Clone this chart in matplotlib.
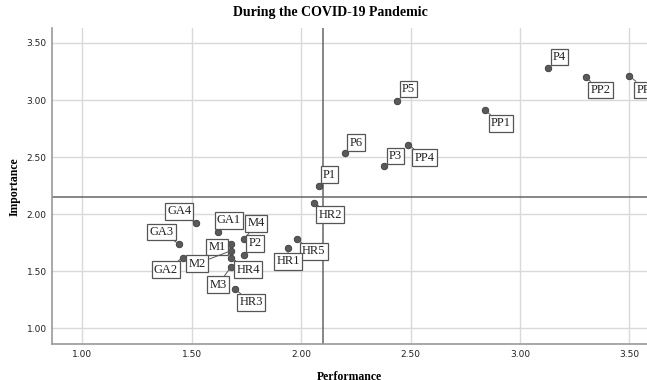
import matplotlib.pyplot as plt

# attribute codes and their (performance, importance) scores
labels = ['P4', 'PP2', 'PP3', 'PP1', 'P5', 'PP4', 'P6', 'P3', 'P1', 'HR2',
          'GA4', 'GA1', 'M4', 'P2', 'M1', 'M2', 'HR4', 'M3', 'GA3', 'GA2',
          'HR3', 'HR5', 'HR1']
performance = [3.13, 3.30, 3.50, 2.84, 2.44, 2.49, 2.20, 2.38, 2.08, 2.06,
               1.52, 1.62, 1.74, 1.74, 1.68, 1.68, 1.68, 1.68, 1.44, 1.46,
               1.70, 1.98, 1.94]
importance = [3.28, 3.20, 3.21, 2.91, 2.99, 2.61, 2.54, 2.42, 2.25, 2.10,
              1.92, 1.84, 1.78, 1.64, 1.74, 1.68, 1.62, 1.54, 1.74, 1.62,
              1.34, 1.78, 1.70]
perf_mean = 2.10
imp_mean = 2.15

# label placement (pixels from the point)
offsets = {'P4': (11, 11), 'PP2': (15, -13), 'PP3': (17, -14), 'PP1': (16, -13),
           'P5': (11, 12), 'PP4': (16, -13), 'P6': (11, 10), 'P3': (11, 10),
           'P1': (11, 11), 'HR2': (16, -12), 'GA4': (-17, 12), 'GA1': (11, 12),
           'M4': (12, 16), 'P2': (11, 12), 'M1': (-14, -3), 'M2': (-34, -13),
           'HR4': (17, -12), 'M3': (-13, -18), 'GA3': (-17, 12), 'GA2': (-17, -12),
           'HR3': (16, -13), 'HR5': (17, -12), 'HR1': (0, -13)}

serif = 'Liberation Serif'

fig = plt.figure(figsize=(6.47, 3.80), dpi=100)
ax = fig.add_axes([0.0808, 0.094, 0.9192, 0.832])

ticks = [1.0, 1.5, 2.0, 2.5, 3.0, 3.5]
ax.set_xticks(ticks)
ax.set_yticks(ticks)
ax.set_xticklabels(['%.2f' % t for t in ticks])
ax.set_yticklabels(['%.2f' % t for t in ticks])
ax.set_xlim(0.863, 3.58)
ax.set_ylim(0.86, 3.63)
ax.grid(True, color='#d9d9d9', lw=1.0)
ax.set_axisbelow(True)
ax.tick_params(length=0, pad=4, labelsize=6.5, colors='#222222')

for s in ['top', 'right']:
    ax.spines[s].set_visible(False)
for s in ['left', 'bottom']:
    ax.spines[s].set_color('#9a9a9a')
    ax.spines[s].set_linewidth(1.2)

ax.axvline(perf_mean, color='#666666', lw=1.1, zorder=1.5)
ax.axhline(imp_mean, color='#666666', lw=1.1, zorder=1.5)

ax.scatter(performance, importance, s=22, color='#5a5a5a', edgecolor='#3a3a3a',
           linewidth=0.6, zorder=3)

for name, x, y in zip(labels, performance, importance):
    dx, dy = offsets[name]
    ax.annotate(name, (x, y), xytext=(dx, dy), textcoords='offset pixels',
                ha='center', va='center', fontsize=9, family=serif, color='#222222',
                bbox=dict(boxstyle='square,pad=0.18', fc='white', ec='#555555', lw=0.9),
                arrowprops=dict(arrowstyle='-', color='#555555', lw=0.7,
                                shrinkA=0, shrinkB=2),
                zorder=4, annotation_clip=False)

fig.text(0.51, 0.968, 'During the COVID-19 Pandemic', ha='center', va='center',
         fontsize=10, fontweight='bold', family=serif)
ax.set_xlabel('Performance', fontsize=8.5, fontweight='bold', family=serif, labelpad=9)
ax.set_ylabel('Importance', fontsize=8.5, fontweight='bold', family=serif, labelpad=4)

fig.savefig('out.png', dpi=100)
